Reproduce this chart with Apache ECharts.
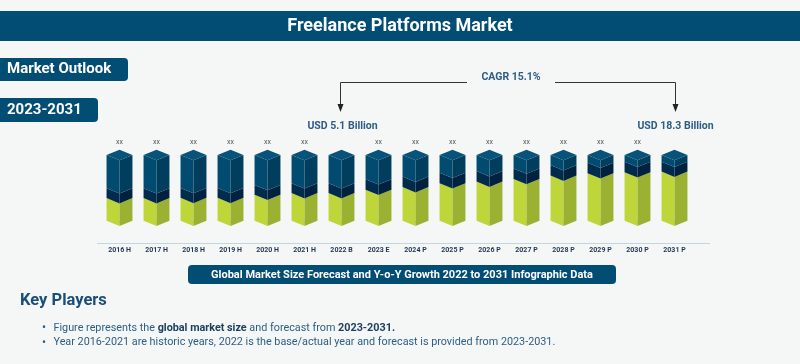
<!DOCTYPE html>
<html>
<head>
<meta charset="utf-8">
<script src="https://cdn.jsdelivr.net/npm/echarts@6/dist/echarts.min.js"></script>
<style>
html,body{margin:0;padding:0;background:#f5f7f7;}
#c{width:800px;height:364px;}
</style>
</head>
<body>
<div id="c"></div>
<script>
// ---- data ----
const categories = ['2016 H','2017 H','2018 H','2019 H','2020 H','2021 H','2022 B','2023 E','2024 P','2025 P','2026 P','2027 P','2028 P','2029 P','2030 P','2031 P'];
// share of each column's height (percent) for the three coloured bands, bottom to top
const greenShare = [34.4,34.4,34.8,34.8,39.4,42.0,42.0,47.0,51.1,57.1,59.5,63.6,68.6,72.3,73.8,74.7];
const navyShare  = [15,15,15,15,15,15,15,16,16,16,16,16,16,16,16,15];
const topShare   = [50.6,50.6,50.2,50.2,45.6,43.0,43.0,37.0,32.9,26.9,24.5,20.4,15.4,11.7,10.2,10.3];
const topLabels  = ['xx','xx','xx','xx','xx','xx','USD 5.1 Billion','xx','xx','xx','xx','xx','xx','xx','xx','USD 18.3 Billion'];
const cagrText = 'CAGR 15.1%';

const FONT = 'Roboto';
const C_DARK = '#024d73';
const C_TXT = '#2c5d85';

const faceColors = [
  {l:'#bfd63b', r:'#9bb131'},   // green
  {l:'#002b4c', r:'#00223f'},   // navy
  {l:'#014a70', r:'#013d5d'}    // blue
];

const chart = echarts.init(document.getElementById('c'), null, {renderer:'canvas'});

function renderItem(params, api) {
  const i = api.value(0);
  const base = api.coord([i, 0]);
  const cx = base[0];
  const hw = api.size([1, 0])[0] * 0.35;
  const dy = hw * 0.41;
  const vals = [api.value(1), api.value(2), api.value(3)];
  const children = [];
  let acc = 0;
  for (let k = 0; k < 3; k++) {
    const ya = api.coord([i, acc])[1];
    acc += vals[k];
    const yb = api.coord([i, acc])[1];
    children.push({
      type:'polygon',
      shape:{points:[[cx-hw, yb],[cx, yb+dy],[cx, ya+dy],[cx-hw, ya]]},
      style:{fill:faceColors[k].l}
    });
    children.push({
      type:'polygon',
      shape:{points:[[cx, yb+dy],[cx+hw, yb],[cx+hw, ya],[cx, ya+dy]]},
      style:{fill:faceColors[k].r}
    });
  }
  const yt = api.coord([i, acc])[1];
  children.push({
    type:'polygon',
    shape:{points:[[cx, yt-dy],[cx+hw, yt],[cx, yt+dy],[cx-hw, yt]]},
    style:{fill:'#07537a'}
  });
  const lbl = topLabels[i];
  if (lbl === 'xx') {
    children.push({type:'text', style:{text:lbl, x:cx, y:yt-dy-7, align:'center', verticalAlign:'middle',
      font:'7px '+FONT, fill:'#555'}});
  } else {
    children.push({type:'text', style:{text:lbl, x:cx+1, y:yt-dy-23, align:'center', verticalAlign:'middle',
      font:'bold 10.5px '+FONT, fill:C_TXT}});
  }
  return {type:'group', children};
}

const seriesData = categories.map((c, i) => [i, greenShare[i], navyShare[i], topShare[i]]);

function arrowHead(x, y) {
  return {type:'polygon', shape:{points:[[x-3, y-8],[x+3, y-8],[x, y]]}, style:{fill:'#222'}};
}

const option = {
  backgroundColor:'#f5f7f7',
  animation:false,
  grid:{left:101, width:592, top:155, bottom:121},
  xAxis:{
    type:'category', data:categories,
    axisLine:{show:false},
    axisTick:{show:true, alignWithLabel:true, length:3, lineStyle:{color:'#c3d5e0'}},
    axisLabel:{margin:4, fontSize:7, fontWeight:'bold', color:'#1f3550', fontFamily:FONT, interval:0}
  },
  yAxis:{type:'value', min:-34, max:100, show:false, splitLine:{show:false}},
  series:[{
    type:'custom', renderItem, data:seriesData,
    encode:{x:0, y:[1,2,3]}
  }],
  graphic:[
    // title bar
    {type:'rect', left:0, top:11, shape:{width:800, height:30}, style:{fill:C_DARK}},
    {type:'text', x:400, y:26, style:{text:'Freelance Platforms Market', align:'center', verticalAlign:'middle',
      font:'bold 18px '+FONT, fill:'#fff'}},
    // badges
    {type:'rect', shape:{x:-6, y:58, width:134, height:23, r:4}, style:{fill:C_DARK}},
    {type:'text', x:7, y:69.5, style:{text:'Market Outlook', verticalAlign:'middle', font:'bold 15px '+FONT, fill:'#fff'}},
    {type:'rect', shape:{x:-6, y:98, width:104, height:24, r:4}, style:{fill:C_DARK}},
    {type:'text', x:7, y:110, style:{text:'2023-2031', verticalAlign:'middle', font:'bold 15px '+FONT, fill:'#fff'}},
    // CAGR annotation
    {type:'text', x:511, y:77.5, style:{text:cagrText, align:'center', verticalAlign:'middle', font:'bold 10.5px '+FONT, fill:C_TXT}},
    {type:'polyline', shape:{points:[[467, 82.5],[340.5, 82.5],[340.5, 105]]}, style:{stroke:'#333', lineWidth:1, fill:null}},
    {type:'polyline', shape:{points:[[555, 82.5],[675.5, 82.5],[675.5, 105]]}, style:{stroke:'#333', lineWidth:1, fill:null}},
    arrowHead(340.5, 112),
    arrowHead(675.5, 112),
    // axis baseline
    {type:'line', shape:{x1:97, y1:243.5, x2:710, y2:243.5}, style:{stroke:'#c3d5e0', lineWidth:1}},
    // bottom banner
    {type:'rect', shape:{x:188, y:265, width:428, height:19, r:4}, style:{fill:C_DARK}},
    {type:'text', x:402, y:275, style:{text:'Global Market Size Forecast and Y-o-Y Growth 2022 to 2031 Infographic Data',
      align:'center', verticalAlign:'middle', font:'bold 11px '+FONT, fill:'#fff'}},
    // key players
    {type:'text', x:20, y:301, style:{text:'Key Players', verticalAlign:'middle', font:'bold 16.5px '+FONT, fill:'#1a4e78'}},
    {type:'text', x:44, y:328, style:{text:'•', align:'center', verticalAlign:'middle', font:'12px '+FONT, fill:C_TXT}},
    {type:'text', x:44, y:342.5, style:{text:'•', align:'center', verticalAlign:'middle', font:'12px '+FONT, fill:C_TXT}},
    {type:'text', x:53.5, y:328, style:{
      text:'{r|Figure represents the }{b|global market size}{r| and forecast from }{b|2023-2031.}',
      verticalAlign:'middle',
      rich:{r:{font:'10.8px '+FONT, fill:C_TXT}, b:{font:'bold 10.8px '+FONT, fill:'#1c3f62'}}
    }},
    {type:'text', x:53.5, y:342.5, style:{
      text:'Year 2016-2021 are historic years, 2022 is the base/actual year and forecast is provided from 2023-2031.',
      verticalAlign:'middle', font:'10.8px '+FONT, fill:C_TXT
    }}
  ]
};
chart.setOption(option);
</script>
</body>
</html>
